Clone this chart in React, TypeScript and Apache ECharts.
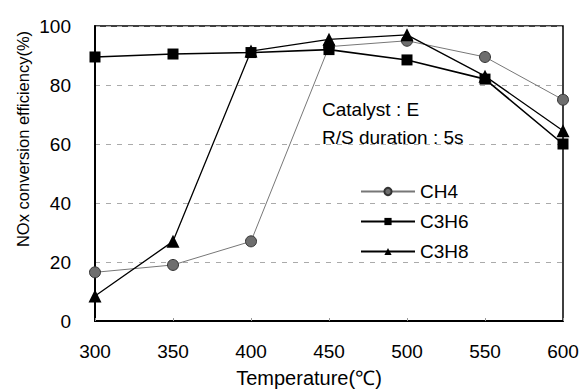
import React, { useEffect, useRef } from "react";
import * as echarts from "echarts";

const temperatures = [300, 350, 400, 450, 500, 550, 600];
const ch4 = [16.5, 19, 27, 93, 95, 89.5, 75];
const c3h6 = [89.5, 90.5, 91, 92, 88.5, 82, 60];
const c3h8 = [8.5, 27, 91.5, 95.5, 97, 83, 64.5];
const seriesNames = ["CH4", "C3H6", "C3H8"];
const annotations = ["Catalyst : E", "R/S duration : 5s"];
const xAxisTitle = "Temperature(℃)";
const yAxisTitle = "NOx conversion efficiency(%)";

const FONT = "'Liberation Sans', Arial, sans-serif";

export default function App() {
  const ref = useRef<HTMLDivElement>(null);
  useEffect(() => {
    const chart = echarts.init(ref.current!, null, { renderer: "svg" });
    const pair = (arr: number[]) => temperatures.map((t, i) => [t, arr[i]]);
    chart.setOption({
      animation: false,
      backgroundColor: "#fff",
      textStyle: { fontFamily: FONT },
      grid: {
        left: 95,
        right: 19,
        top: 26,
        bottom: 70,
        show: true,
        borderColor: "#000",
        borderWidth: 1.5,
        outerBoundsMode: "none",
        containLabel: false,
      },
      xAxis: {
        type: "value",
        min: 300,
        max: 600,
        interval: 50,
        axisLine: { show: true, lineStyle: { color: "#000", width: 2 } },
        axisTick: { show: true, inside: true, length: 3, lineStyle: { color: "#999" } },
        axisLabel: { fontSize: 19, color: "#000", margin: 21, fontFamily: FONT },
        splitLine: { show: false },
      },
      yAxis: {
        type: "value",
        min: 0,
        max: 100,
        interval: 20,
        axisLine: { show: true, lineStyle: { color: "#000", width: 2 } },
        axisTick: { show: false },
        axisLabel: { fontSize: 19, color: "#000", margin: 24, fontFamily: FONT },
        splitLine: { show: true, lineStyle: { color: "#aaa", type: [5, 6], width: 1 } },
      },
      legend: {
        orient: "vertical",
        left: 355,
        top: 177,
        itemWidth: 54,
        itemHeight: 9,
        itemGap: 11,
        textStyle: { fontSize: 19, color: "#000", fontFamily: FONT },
        data: seriesNames,
      },
      graphic: [
        {
          type: "text",
          left: 322,
          top: 100,
          style: { text: annotations[0], fontSize: 19, fill: "#000", fontFamily: FONT },
        },
        {
          type: "text",
          left: 322,
          top: 128,
          style: { text: annotations[1], fontSize: 19, fill: "#000", fontFamily: FONT },
        },
        {
          type: "text",
          x: 309,
          y: 378,
          style: {
            text: xAxisTitle,
            fontSize: 20,
            fill: "#000",
            fontFamily: FONT,
            align: "center",
            verticalAlign: "middle",
          },
        },
        {
          type: "text",
          x: 23,
          y: 139,
          rotation: Math.PI / 2,
          style: {
            text: yAxisTitle,
            fontSize: 16.5,
            fill: "#000",
            fontFamily: FONT,
            align: "center",
            verticalAlign: "middle",
          },
        },
      ],
      series: [
        {
          name: seriesNames[0],
          type: "line",
          data: pair(ch4),
          symbol: "circle",
          symbolSize: 11,
          itemStyle: { color: "#6e6e6e", borderColor: "#333", borderWidth: 1 },
          lineStyle: { color: "#777", width: 1 },
          z: 3,
        },
        {
          name: seriesNames[1],
          type: "line",
          data: pair(c3h6),
          symbol: "rect",
          symbolSize: 11,
          itemStyle: { color: "#000" },
          lineStyle: { color: "#000", width: 1.6 },
          z: 4,
        },
        {
          name: seriesNames[2],
          type: "line",
          data: pair(c3h8),
          symbol: "triangle",
          symbolSize: 13,
          itemStyle: { color: "#000" },
          lineStyle: { color: "#000", width: 1.3 },
          z: 5,
        },
      ],
    });
    return () => chart.dispose();
  }, []);
  return <div ref={ref} style={{ width: 582, height: 391, position: "absolute", left: 0, top: 0 }} />;
}
